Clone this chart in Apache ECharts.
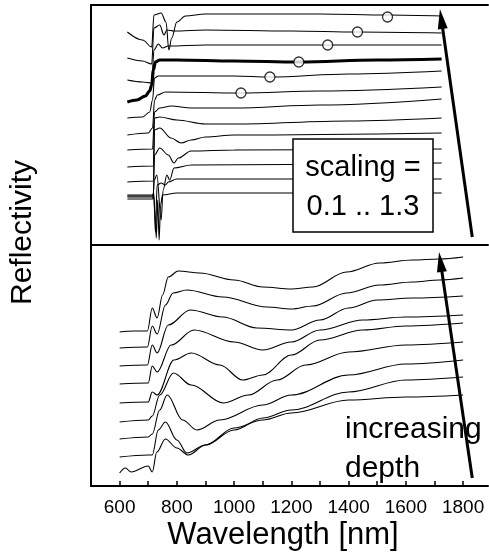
<!DOCTYPE html>
<html><head><meta charset="utf-8">
<script src="https://cdn.jsdelivr.net/npm/echarts@6/dist/echarts.min.js"></script>
<style>html,body{margin:0;padding:0;background:#fff}#c{width:489px;height:555px}</style>
</head><body><div id="c"></div>
<script>
// wavelength ticks (nm)
const xTickLabels = [600, 800, 1000, 1200, 1400, 1600, 1800];
// Top panel: simulated spectra, scaling 0.1 .. 1.3 (offset reflectivity, arb. units) [wavelength, value]
const topS01 = [[627,0.46],[715,0.46],[719,0.49],[724,0.30],[728,0.07],[733,0.45],[738,0.05],[743,0.40],[750,0.50],[800,0.52],[1725,0.52]];
const topS02 = [[627,0.48],[715,0.48],[719,0.53],[725,0.13],[731,0.60],[745,0.62],[760,0.60],[770,0.63],[800,0.66],[1725,0.66]];
const topS03 = [[627,0.49],[717,0.49],[721,0.65],[730,0.70],[745,0.25],[752,0.55],[765,0.70],[775,0.65],[790,0.77],[850,0.80],[1725,0.82]];
const topS04 = [[627,0.50],[718,0.50],[722,0.90],[740,0.97],[770,0.90],[790,0.82],[805,0.87],[850,0.94],[1000,0.95],[1725,0.96]];
const topS05 = [[627,0.63],[718,0.64],[722,1.15],[740,1.17],[780,1.07],[815,1.02],[850,1.05],[900,1.08],[1000,1.10],[1725,1.12]];
const topS06 = [[627,0.78],[718,0.79],[722,1.27],[740,1.28],[800,1.25],[900,1.21],[1000,1.21],[1400,1.24],[1725,1.27]];
const topS07 = [[627,0.95],[715,0.96],[722,1.33],[740,1.37],[780,1.39],[850,1.37],[1000,1.37],[1300,1.40],[1725,1.46]];
const topS08 = [[627,1.10],[700,1.12],[715,1.17],[722,1.45],[732,1.50],[760,1.53],[1024,1.52],[1300,1.54],[1725,1.58]];
const topS09 = [[627,1.27],[680,1.28],[705,1.33],[715,1.45],[722,1.67],[735,1.69],[1000,1.69],[1125,1.68],[1400,1.71],[1725,1.74]];
const topS10 = [[627,1.43],[660,1.45],[690,1.49],[705,1.54],[712,1.60],[718,1.75],[725,1.83],[740,1.85],[800,1.85],[1000,1.84],[1226,1.83],[1500,1.85],[1725,1.86]];
const topS11 = [[627,1.65],[680,1.63],[712,1.62],[720,1.95],[735,2.01],[750,1.97],[770,1.99],[900,2.00],[1327,2.00],[1725,2.00]];
const topS12 = [[627,1.87],[680,1.84],[712,1.81],[720,2.17],[740,2.20],[755,2.10],[765,2.15],[790,2.14],[900,2.15],[1200,2.14],[1431,2.13],[1725,2.12]];
const topS13 = [[627,2.13],[680,2.05],[712,1.98],[720,2.30],[745,2.32],[762,2.23],[772,1.95],[782,2.07],[800,2.23],[830,2.29],[900,2.31],[1300,2.31],[1536,2.30],[1725,2.29]];
// open circles marking a feature on the upper spectra
const circlePts = [[1024,1.52],[1125,1.68],[1226,1.83],[1327,2.00],[1431,2.13],[1536,2.28]];
// Bottom panel: measured spectra (offset reflectivity, arb. units), bottom to top
const botM1 = [[600,0.13],[620,0.18],[640,0.14],[700,0.20],[714,0.14],[730,0.34],[760,0.47],[800,0.38],[840,0.31],[900,0.41],[1000,0.58],[1100,0.66],[1200,0.73],[1400,0.86],[1600,0.89],[1800,0.91]];
const botM2 = [[600,0.29],[700,0.31],[714,0.31],[735,0.56],[760,0.64],[800,0.46],[835,0.33],[900,0.41],[1000,0.56],[1100,0.68],[1200,0.76],[1400,0.94],[1600,1.06],[1800,1.09]];
const botM3 = [[600,0.47],[700,0.49],[714,0.52],[740,0.76],[766,0.91],[820,0.66],[870,0.56],[950,0.66],[1100,0.81],[1200,0.91],[1400,1.11],[1600,1.22],[1800,1.26]];
const botM4 = [[600,0.64],[700,0.66],[714,0.70],[740,0.91],[788,1.13],[850,1.01],[962,0.83],[1050,0.91],[1150,1.06],[1250,1.21],[1400,1.34],[1600,1.41],[1800,1.44]];
const botM5 = [[600,0.83],[700,0.84],[714,0.94],[731,0.91],[790,1.26],[850,1.33],[950,1.21],[1030,1.06],[1100,1.11],[1200,1.31],[1300,1.46],[1450,1.56],[1600,1.60],[1800,1.63]];
const botM6 = [[600,1.02],[700,1.03],[714,1.20],[731,1.14],[780,1.41],[860,1.56],[1000,1.44],[1100,1.36],[1200,1.44],[1300,1.56],[1450,1.66],[1600,1.69],[1800,1.71]];
const botM7 = [[600,1.20],[697,1.21],[714,1.41],[731,1.33],[770,1.61],[847,1.76],[960,1.69],[1080,1.58],[1200,1.56],[1300,1.66],[1400,1.78],[1500,1.86],[1623,1.88],[1800,1.90]];
const botM8 = [[600,1.38],[697,1.39],[714,1.60],[731,1.52],[760,1.81],[787,1.93],[835,1.96],[960,1.89],[1115,1.79],[1200,1.77],[1275,1.80],[1393,1.93],[1508,2.01],[1623,2.04],[1717,2.06],[1800,2.08]];
const botM9 = [[600,1.54],[650,1.55],[697,1.55],[714,1.78],[731,1.68],[750,1.91],[770,2.09],[805,2.15],[880,2.13],[1000,2.06],[1100,1.99],[1200,1.97],[1275,1.99],[1393,2.14],[1508,2.23],[1623,2.26],[1717,2.27],[1800,2.29]];
// arrows (data coordinates)
const topArrow = [[1832,0.08],[1724,2.26]];
const botArrow = [[1832,0.08],[1721,2.24]];

const topCurves = [topS01,topS02,topS03,topS04,topS05,topS06,topS07,topS08,topS09,topS10,topS11,topS12,topS13];
const botCurves = [botM1,botM2,botM3,botM4,botM5,botM6,botM7,botM8,botM9];

const FONT = 'Liberation Sans, Arial, sans-serif';
const chart = echarts.init(document.getElementById('c'), null, {renderer:'canvas'});
const lineBase = {type:'line', showSymbol:false, smooth:0.35, smoothMonotone:'x', silent:true, animation:false, z:2};
const series = [];
topCurves.forEach((d,i)=>{
  series.push(Object.assign({}, lineBase, {xAxisIndex:0, yAxisIndex:0, data:d,
    lineStyle:{color:'#000', width: i===9 ? 3.2 : 1.1}}));
});
botCurves.forEach((d)=>{
  series.push(Object.assign({}, lineBase, {xAxisIndex:2, yAxisIndex:1, data:d,
    lineStyle:{color:'#000', width:1.1}}));
});
series.push({type:'scatter', xAxisIndex:0, yAxisIndex:0, data:circlePts, symbol:'circle', symbolSize:10,
  itemStyle:{color:'#fff', borderColor:'#000', borderWidth:1.3}, z:5, silent:true, animation:false});
function arrowSeries(xi, yi, pts){
  return {type:'line', xAxisIndex:xi, yAxisIndex:yi, data:[], silent:true, animation:false,
    markLine:{silent:true, animation:false, symbol:['none','triangle'], symbolSize:[10,20], label:{show:false},
      lineStyle:{color:'#000', width:3, type:'solid'},
      data:[[{coord:pts[0]},{coord:pts[1]}]]}, z:6};
}
series.push(arrowSeries(0,0,topArrow));
series.push(arrowSeries(2,1,botArrow));

const xCommon = {type:'value', min:500, max:1887, interval:100};
chart.setOption({
  animation:false,
  backgroundColor:'#fff',
  grid:[{left:91, top:5, width:397, height:240},{left:91, top:245, width:397, height:241}],
  xAxis:[
    Object.assign({}, xCommon, {gridIndex:0, position:'bottom', axisLine:{show:true, lineStyle:{color:'#000', width:2}}, axisTick:{show:false}, axisLabel:{show:false}, splitLine:{show:false}}),
    Object.assign({}, xCommon, {gridIndex:0, position:'top', axisLine:{show:true, lineStyle:{color:'#000', width:2}}, axisTick:{show:false}, axisLabel:{show:false}, splitLine:{show:false}}),
    Object.assign({}, xCommon, {gridIndex:1, position:'bottom', axisLine:{show:true, lineStyle:{color:'#000', width:2}},
      axisTick:{show:true, inside:true, length:5, lineStyle:{color:'#000', width:1.5}},
      axisLabel:{show:true, color:'#000', fontFamily:FONT, fontSize:19, margin:12, showMaxLabel:false, showMinLabel:false,
        formatter:(v)=> xTickLabels.indexOf(v)>=0 ? String(v) : ''},
      splitLine:{show:false}})
  ],
  yAxis:[
    {type:'value', gridIndex:0, min:0, max:2.4, axisLine:{show:true, lineStyle:{color:'#000', width:2}}, axisTick:{show:false}, axisLabel:{show:false}, splitLine:{show:false}},
    {type:'value', gridIndex:1, min:0, max:2.41, axisLine:{show:true, lineStyle:{color:'#000', width:2}}, axisTick:{show:false}, axisLabel:{show:false}, splitLine:{show:false}}
  ],
  graphic:[
    {type:'text', left:8, top:160, rotation:Math.PI/2, style:{text:'Reflectivity', font:'30px '+FONT, fill:'#000'}, z:10},
    {type:'text', x:283, y:535, style:{text:'Wavelength [nm]', font:'31px '+FONT, fill:'#000', textAlign:'center', textVerticalAlign:'middle'}, z:10},
    {type:'rect', shape:{x:293, y:139, width:140, height:93}, style:{fill:'#fff', stroke:'#000', lineWidth:1.5}, z:20},
    {type:'text', x:363, y:168, style:{text:'scaling =', font:'29px '+FONT, fill:'#000', textAlign:'center', textVerticalAlign:'middle'}, z:21},
    {type:'text', x:363, y:207, style:{text:'0.1 .. 1.3', font:'29px '+FONT, fill:'#000', textAlign:'center', textVerticalAlign:'middle'}, z:21},
    {type:'text', x:345, y:430, style:{text:'increasing', font:'30px '+FONT, fill:'#000', textVerticalAlign:'middle'}, z:21},
    {type:'text', x:345, y:469, style:{text:'depth', font:'30px '+FONT, fill:'#000', textVerticalAlign:'middle'}, z:21}
  ],
  series: series
});
</script></body></html>
